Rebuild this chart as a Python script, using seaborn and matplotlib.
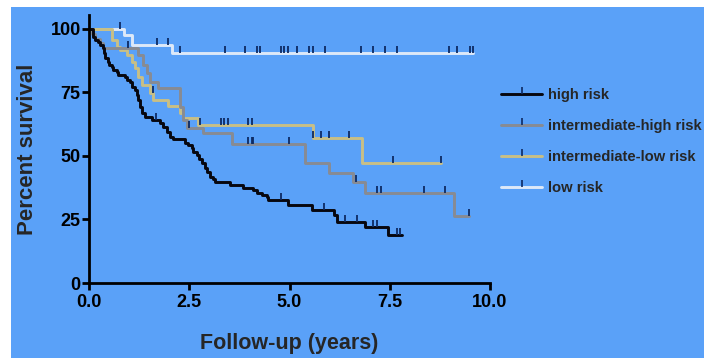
import numpy as np
import pandas as pd
import matplotlib
matplotlib.use('Agg')
import matplotlib.pyplot as plt
from matplotlib.patches import Rectangle
from matplotlib.lines import Line2D
import seaborn as sns

sns.set_style('ticks')
plt.rcParams['font.family'] = ['Liberation Sans', 'DejaVu Sans']
plt.rcParams['font.weight'] = 'bold'
plt.rcParams['axes.labelweight'] = 'bold'

# Kaplan-Meier step data: time (years) where a drop happens, survival (%) after it
# last entry = end of follow-up
high_t = [0, 0.11, 0.15, 0.23, 0.27, 0.36, 0.38, 0.40, 0.47, 0.50, 0.57, 0.61, 0.69, 0.73,
          0.90, 0.94, 1.02, 1.06, 1.15, 1.19, 1.23, 1.27, 1.31, 1.40, 1.56, 1.77, 1.85, 1.94,
          2.02, 2.10, 2.39, 2.48, 2.56, 2.60, 2.69, 2.75, 2.81, 2.89, 2.94, 3.02, 3.08, 3.14,
          3.52, 3.85, 4.10, 4.18, 4.31, 4.43, 4.47, 4.97, 5.55, 6.11, 6.18, 6.88, 7.46, 7.80]
high_s = [100, 97.0, 95.7, 95.0, 93.7, 92.4, 90.4, 88.5, 87.1, 85.8, 85.2, 83.9, 83.2, 81.9,
          81.2, 79.9, 79.3, 77.3, 76.0, 74.0, 72.0, 69.4, 66.8, 65.5, 64.2, 62.9, 61.5, 59.6,
          57.6, 56.6, 55.2, 54.3, 53.0, 51.7, 50.4, 48.7, 47.1, 45.2, 43.8, 41.9, 40.8, 39.9,
          38.6, 37.3, 36.6, 35.6, 34.6, 34.0, 32.7, 30.7, 28.7, 26.8, 24.1, 22.2, 18.9, 18.9]

ih_t = [0, 0.07, 0.15, 0.27, 0.36, 1.22, 1.35, 1.44, 1.52, 1.73, 2.27, 2.35, 2.44, 2.85,
        3.56, 5.39, 5.99, 6.59, 6.88, 9.09, 9.48]
ih_s = [100, 98.0, 96.0, 94.4, 92.4, 89.8, 85.8, 82.5, 79.3, 76.6, 69.4, 64.2, 60.9, 58.9,
        54.8, 47.1, 43.4, 39.9, 35.6, 26.5, 26.5]

il_t = [0, 0.58, 0.69, 0.77, 0.94, 1.06, 1.15, 1.23, 1.31, 1.52, 1.60, 1.98, 2.27, 2.35,
        2.72, 5.58, 6.80, 8.78]
il_s = [100, 95.7, 93.0, 91.7, 89.8, 87.0, 84.5, 81.2, 78.0, 74.7, 72.0, 69.5, 67.0, 65.0,
        62.2, 57.0, 47.1, 47.1]

low_t = [0, 0.88, 1.06, 2.07, 9.57]
low_s = [100, 97.6, 93.7, 90.5, 90.5]

# censored observations (years)
high_c = [1.67, 4.79, 5.87, 6.38, 6.68, 7.09, 7.17, 7.67, 7.76]
ih_c = [0.98, 2.49, 3.97, 4.06, 4.08, 4.99, 6.67, 7.17, 7.27, 8.36, 8.88, 9.48]
il_c = [1.59, 2.77, 3.28, 3.37, 3.47, 3.97, 4.06, 5.58, 5.79, 5.99, 6.48, 7.57, 8.78]
low_c = [0.77, 1.69, 1.96, 2.27, 3.39, 3.89, 4.18, 4.26, 4.79, 4.87, 4.97, 5.18, 5.49,
         5.58, 5.88, 6.78, 7.07, 7.38, 7.67, 8.98, 9.17, 9.49, 9.57]

groups = ['high risk', 'intermediate-high risk', 'intermediate-low risk', 'low risk']
colors = {'high risk': '#07070f', 'intermediate-high risk': '#878b93',
          'intermediate-low risk': '#c8bf86', 'low risk': '#dde9f8'}
tick_col = '#0d2a63'
bg = '#5aa1f8'

steps = {'high risk': (high_t, high_s), 'intermediate-high risk': (ih_t, ih_s),
         'intermediate-low risk': (il_t, il_s), 'low risk': (low_t, low_s)}
cens = {'high risk': high_c, 'intermediate-high risk': ih_c,
        'intermediate-low risk': il_c, 'low risk': low_c}

rows = []
crows = []
for g in groups[::-1]:
    t, s = steps[g]
    for a, b in zip(t, s):
        rows.append((g, a, b))
    for c in cens[g]:
        i = np.searchsorted(t, c, side='right') - 1
        crows.append((g, c, s[i]))
df = pd.DataFrame(rows, columns=['group', 'time', 'surv'])
cdf = pd.DataFrame(crows, columns=['group', 'time', 'surv'])

fig = plt.figure(figsize=(7.04, 3.58), dpi=100)
fig.patches.append(Rectangle((11 / 704, 0), 1, (358 - 7) / 358, transform=fig.transFigure,
                             facecolor=bg, edgecolor='none', zorder=-10))
ax = fig.add_axes([89 / 704, 75 / 358, 401 / 704, 268 / 358])
ax.set_facecolor('none')

sns.lineplot(data=df, x='time', y='surv', hue='group', palette=colors, estimator=None,
             sort=False, drawstyle='steps-post', linewidth=2.1, legend=False, ax=ax)
sns.scatterplot(data=cdf, x='time', y='surv', marker=2, s=26, color=tick_col,
                linewidth=1.3, legend=False, ax=ax, zorder=5)

ax.set_xlim(0, 10)
ax.set_ylim(0, 105.5)
ax.set_xticks([0, 2.5, 5, 7.5, 10])
ax.set_xticklabels(['0.0', '2.5', '5.0', '7.5', '10.0'])
ax.set_yticks([0, 25, 50, 75, 100])
sns.despine(ax=ax)
for sp in ['left', 'bottom']:
    ax.spines[sp].set_linewidth(2.0)
    ax.spines[sp].set_color('black')
ax.tick_params(axis='both', length=5, width=2.0, color='black', labelsize=13, labelcolor='black')
ax.tick_params(axis='y', pad=1)
ax.tick_params(axis='x', pad=3)
ax.set_xlabel('Follow-up (years)', fontsize=15.5, labelpad=16)
ax.set_ylabel('Percent survival', fontsize=16, labelpad=9)

handles = [Line2D([], [], color=colors[g], lw=2.1, marker=2, markersize=5,
                  markeredgecolor=tick_col, markeredgewidth=1.2) for g in groups]
fig.legend(handles, groups, loc='upper left', bbox_to_anchor=(501 / 704, 1 - 88 / 358),
           frameon=False, fontsize=10.6, handlelength=2.8, handletextpad=0.4,
           labelspacing=1.15, numpoints=1, borderaxespad=0, borderpad=0)

fig.savefig('out.png', dpi=100, facecolor='white')
